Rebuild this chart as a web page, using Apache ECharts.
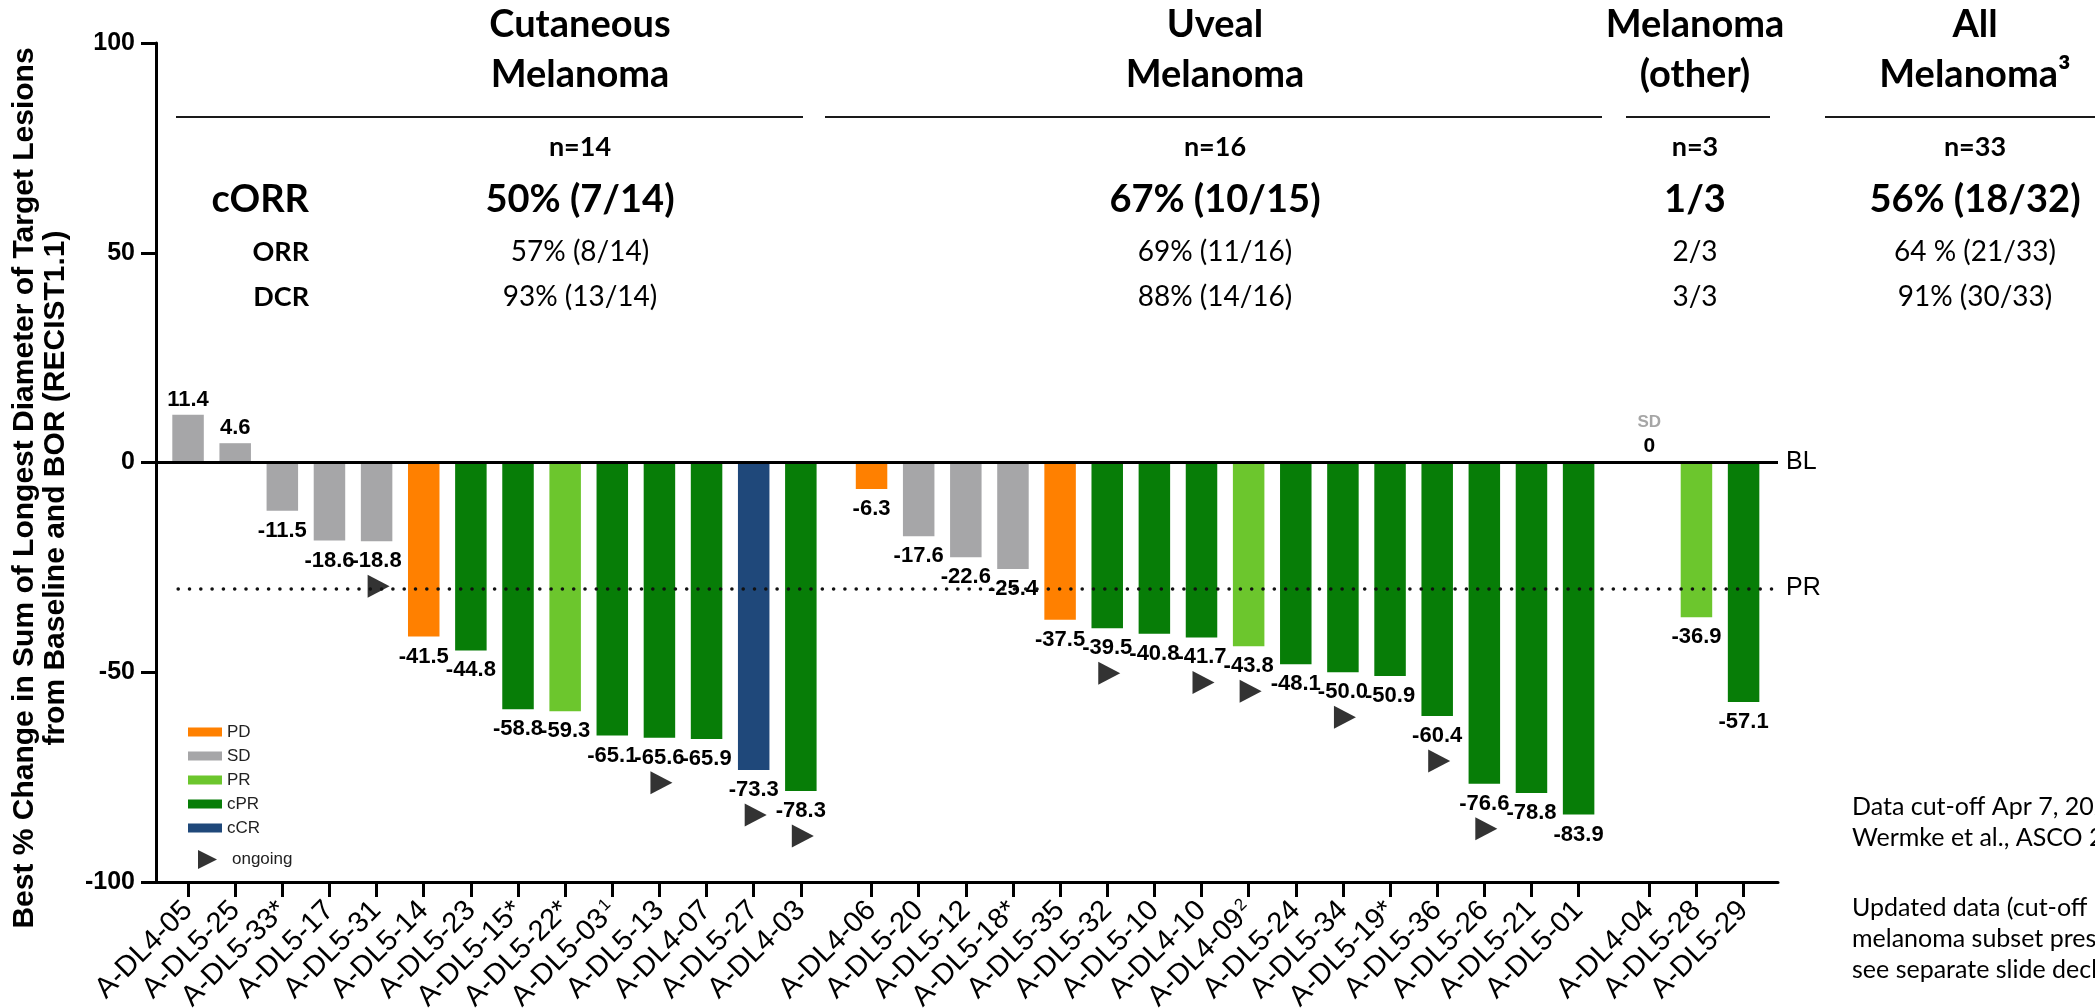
<!DOCTYPE html>
<html>
<head>
<meta charset="utf-8">
<script src="https://cdn.jsdelivr.net/npm/echarts@6/dist/echarts.min.js"></script>
<style>
  html, body { margin: 0; padding: 0; background: #fff; }
  #chart { width: 2095px; height: 1008px; }
</style>
</head>
<body>
<div id="chart"></div>
<script>
// ---- Patient-level data, one block per cohort (plotted left to right) ----
const cutaneousIds = ['A-DL4-05', 'A-DL5-25', 'A-DL5-33*', 'A-DL5-17', 'A-DL5-31', 'A-DL5-14', 'A-DL5-23',
  'A-DL5-15*', 'A-DL5-22*', 'A-DL5-03¹', 'A-DL5-13', 'A-DL4-07', 'A-DL5-27', 'A-DL4-03'];
const cutaneousChange = [11.4, 4.6, -11.5, -18.6, -18.8, -41.5, -44.8, -58.8, -59.3, -65.1, -65.6, -65.9, -73.3, -78.3];
const cutaneousBor = ['SD', 'SD', 'SD', 'SD', 'SD', 'PD', 'cPR', 'cPR', 'PR', 'cPR', 'cPR', 'cPR', 'cCR', 'cPR'];
const cutaneousOngoing = [0, 0, 0, 0, 1, 0, 0, 0, 0, 0, 1, 0, 1, 1];

const uvealIds = ['A-DL4-06', 'A-DL5-20', 'A-DL5-12', 'A-DL5-18*', 'A-DL5-35', 'A-DL5-32', 'A-DL5-10', 'A-DL4-10',
  'A-DL4-09²', 'A-DL5-24', 'A-DL5-34', 'A-DL5-19*', 'A-DL5-36', 'A-DL5-26', 'A-DL5-21', 'A-DL5-01'];
const uvealChange = [-6.3, -17.6, -22.6, -25.4, -37.5, -39.5, -40.8, -41.7, -43.8, -48.1, -50.0, -50.9, -60.4, -76.6, -78.8, -83.9];
const uvealBor = ['PD', 'SD', 'SD', 'SD', 'PD', 'cPR', 'cPR', 'cPR', 'PR', 'cPR', 'cPR', 'cPR', 'cPR', 'cPR', 'cPR', 'cPR'];
const uvealOngoing = [0, 0, 0, 0, 0, 1, 0, 1, 1, 0, 1, 0, 1, 1, 0, 0];

const otherIds = ['A-DL4-04', 'A-DL5-28', 'A-DL5-29'];
const otherChange = [0, -36.9, -57.1];
const otherBor = ['SD', 'PR', 'cPR'];
const otherOngoing = [0, 0, 0];

// Response categories (legend order) and their colours
const responseTypes = ['PD', 'SD', 'PR', 'cPR', 'cCR'];
const responseColors = ['#FF8000', '#A6A6A8', '#6CC62D', '#077D07', '#1F487A'];

// Y axis ticks and reference levels
const yTicks = [-100, -50, 0, 50, 100];
const baselineLevel = 0;
const prThreshold = -30;

// Summary table above the bars
const cohortTitles = [['Cutaneous', 'Melanoma'], ['Uveal', 'Melanoma'], ['Melanoma', '(other)'], ['All', 'Melanoma³']];
const cohortN = ['n=14', 'n=16', 'n=3', 'n=33'];
const cohortCorr = ['50% (7/14)', '67% (10/15)', '1/3', '56% (18/32)'];
const cohortOrr = ['57% (8/14)', '69% (11/16)', '2/3', '64 % (21/33)'];
const cohortDcr = ['93% (13/14)', '88% (14/16)', '3/3', '91% (30/33)'];
const rowLabels = ['cORR', 'ORR', 'DCR'];

const yTitleLines = ['Best % Change in Sum of Longest Diameter of Target Lesions', 'from Baseline and BOR (RECIST1.1)'];
const noteLines = ['Data cut-off Apr 7, 2023', 'Wermke et al., ASCO 2023', 'Updated data (cut-off', 'melanoma subset presented', 'see separate slide deck'];

// ---- Layout helpers ----
const CHART_FONT = '"Liberation Sans", Arial, sans-serif';
const TABLE_FONT = 'Lato, "Open Sans", sans-serif';
const COHORT_GAP = 0.5;   // extra spacing (in bar slots) between cohorts

const cohorts = [
  { ids: cutaneousIds, change: cutaneousChange, bor: cutaneousBor, ongoing: cutaneousOngoing },
  { ids: uvealIds, change: uvealChange, bor: uvealBor, ongoing: uvealOngoing },
  { ids: otherIds, change: otherChange, bor: otherBor, ongoing: otherOngoing }
];

const patients = [];
let slot = 0;
cohorts.forEach(c => {
  c.ids.forEach((id, i) => {
    patients.push({ id, change: c.change[i], bor: c.bor[i], ongoing: c.ongoing[i], pos: slot });
    slot += 1;
  });
  slot += COHORT_GAP;
});
const positions = patients.map(p => p.pos);
const xMin = positions[0] - 0.68;
const xMax = positions[positions.length - 1] + 0.73;

function patientAt(v) {
  return patients.find(p => Math.abs(p.pos - v) < 1e-6);
}

function xLabel(v) {
  const p = patientAt(v);
  if (!p) return '';
  const m = p.id.match(/^(.*?)([¹²])$/);
  if (m) return '{t|' + m[1] + '}{s|' + (m[2] === '¹' ? '1' : '2') + '}';
  return '{t|' + p.id + '}';
}

function barLabel(p) {
  if (p.change === 0) {
    return {
      position: 'top', distance: 4,
      formatter: '{sd|SD}\n{v|0}',
      rich: {
        sd: { fontSize: 17, color: '#A6A6A6', lineHeight: 25, fontFamily: CHART_FONT },
        v: { fontSize: 21, fontWeight: 'bold', color: '#000', lineHeight: 24, fontFamily: CHART_FONT }
      }
    };
  }
  if (p.change > 0) return { position: 'top', distance: 4 };
  return { position: 'bottom', distance: 9 };
}

const TRIANGLE = 'path://M0,0L20,10L0,20Z';

const barSeries = responseTypes.map((r, k) => ({
  name: r,
  type: 'bar',
  barWidth: 31.5,
  barGap: '-100%',
  z: 2,
  itemStyle: { color: responseColors[k] },
  label: {
    show: true,
    fontFamily: CHART_FONT,
    fontSize: 22,
    fontWeight: 'bold',
    color: '#000',
    lineHeight: 22,
    formatter: prm => prm.value[1].toFixed(1)
  },
  data: patients.filter(p => p.bor === r).map(p => ({ value: [p.pos, p.change], label: barLabel(p) }))
}));

const ongoingSeries = {
  name: 'ongoing',
  type: 'scatter',
  z: 4,
  symbol: TRIANGLE,
  symbolSize: [22, 23],
  symbolOffset: [2, 45],
  itemStyle: { color: '#000' },
  data: patients.filter(p => p.ongoing).map(p => [p.pos, p.change])
};

// Reference lines: dotted PR threshold sits behind the bars, baseline on top
const prLineSeries = {
  name: 'prLine', type: 'line', data: [], z: 1, silent: true,
  markLine: {
    silent: true, symbol: 'none', animation: false,
    lineStyle: { color: '#111', width: 3.5, type: [0.1, 11.2], cap: 'round' },
    label: { show: true, position: 'end', formatter: 'PR', fontFamily: CHART_FONT, fontSize: 25, color: '#000', distance: 8 },
    data: [[{ coord: [positions[0] - 0.21, prThreshold] }, { coord: [xMax, prThreshold] }]]
  }
};
const baselineSeries = {
  name: 'baseline', type: 'line', data: [], z: 3, silent: true,
  markLine: {
    silent: true, symbol: 'none', animation: false,
    lineStyle: { color: '#000', width: 3, type: 'solid' },
    label: { show: true, position: 'end', formatter: 'BL', fontFamily: CHART_FONT, fontSize: 25, color: '#000', distance: 8 },
    data: [{ yAxis: baselineLevel }]
  }
};

// ---- Summary table and annotations ----
const colCenters = [580, 1215, 1695, 1975];
const colRules = [[176, 803], [825, 1602], [1626, 1770], [1825, 2095]];
const graphics = [];
function txt(x, y, text, size, weight, align, font, color) {
  graphics.push({
    type: 'text', x, y, silent: true,
    style: {
      text, fontSize: size, fontWeight: weight, fontFamily: font || TABLE_FONT,
      fill: color || '#000', textAlign: align || 'center', textVerticalAlign: 'middle'
    }
  });
}
colCenters.forEach((cx, i) => {
  txt(cx, 25, cohortTitles[i][0], 38, 'bold');
  txt(cx, 75, cohortTitles[i][1], 38, 'bold');
  graphics.push({
    type: 'line', silent: true,
    shape: { x1: colRules[i][0], y1: 117, x2: colRules[i][1], y2: 117 },
    style: { stroke: '#1a1a1a', lineWidth: 2 }
  });
  txt(cx, 147, cohortN[i], 27, 'bold');
  txt(cx, 200, cohortCorr[i], 38, 'bold');
  txt(cx, 252, cohortOrr[i], 28, 'normal');
  txt(cx, 297, cohortDcr[i], 28, 'normal');
});
txt(309, 200, rowLabels[0], 38, 'bold', 'right');
txt(309, 252, rowLabels[1], 27, 'bold', 'right');
txt(309, 297, rowLabels[2], 27, 'bold', 'right');

[25, 56].forEach((x, i) => {
  graphics.push({
    type: 'text', x, y: 488, rotation: Math.PI / 2, silent: true,
    style: {
      text: yTitleLines[i], fontSize: 30, fontWeight: 'bold', fontFamily: CHART_FONT,
      fill: '#000', textAlign: 'center', textVerticalAlign: 'middle'
    }
  });
});

[807, 838, 908, 939, 970].forEach((y, i) => txt(1852, y, noteLines[i], 25, 'normal', 'left'));

const option = {
  animation: false,
  backgroundColor: '#fff',
  grid: { left: 156, right: 317, top: 43, bottom: 126, containLabel: false, outerBoundsMode: 'none' },
  legend: [
    {
      orient: 'vertical', left: 183, top: 718, itemWidth: 34, itemHeight: 9, itemGap: 6,
      icon: 'rect', selectedMode: false,
      textStyle: { fontFamily: CHART_FONT, fontSize: 17, lineHeight: 18, color: '#222' },
      data: responseTypes
    },
    {
      orient: 'vertical', left: 193, top: 845, itemWidth: 19, itemHeight: 20, selectedMode: false,
      textStyle: { fontFamily: CHART_FONT, fontSize: 17, color: '#222', padding: [0, 0, 0, 10] },
      data: [{ name: 'ongoing', icon: TRIANGLE }]
    }
  ],
  xAxis: {
    type: 'value',
    min: xMin,
    max: xMax,
    splitLine: { show: false },
    axisLine: { show: true, onZero: false, lineStyle: { color: '#000', width: 3 } },
    axisTick: { show: true, customValues: positions, length: 15, lineStyle: { color: '#000', width: 3 } },
    axisLabel: {
      show: true,
      customValues: positions,
      rotate: 45,
      margin: 24,
      formatter: xLabel,
      rich: {
        t: { fontFamily: CHART_FONT, fontSize: 29, color: '#000' },
        s: { fontFamily: CHART_FONT, fontSize: 17, color: '#000', verticalAlign: 'top', padding: [0, 0, 0, 2] }
      }
    }
  },
  yAxis: {
    type: 'value',
    min: yTicks[0],
    max: yTicks[yTicks.length - 1],
    interval: 50,
    splitLine: { show: false },
    axisLine: { show: true, onZero: false, lineStyle: { color: '#000', width: 3 } },
    axisTick: { show: true, length: 15, lineStyle: { color: '#000', width: 3 } },
    axisLabel: { fontFamily: CHART_FONT, fontSize: 25, fontWeight: 'bold', color: '#000', margin: 21 }
  },
  graphic: graphics,
  series: [prLineSeries, ...barSeries, baselineSeries, ongoingSeries]
};

const chart = echarts.init(document.getElementById('chart'), null, { renderer: 'canvas' });
chart.setOption(option);
</script>
</body>
</html>
